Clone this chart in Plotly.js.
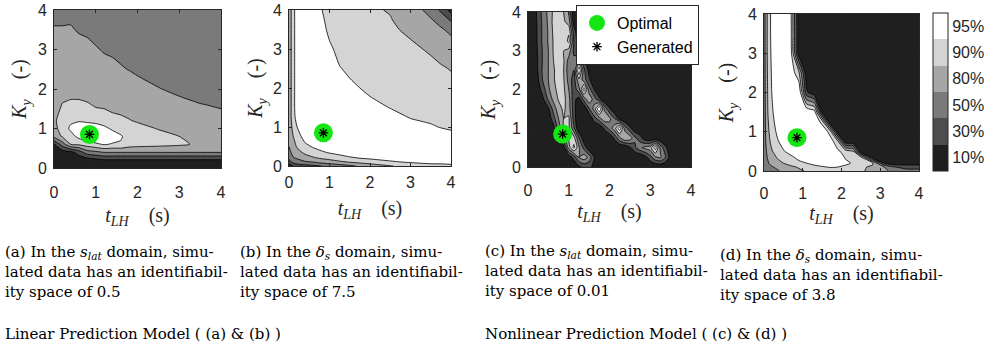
<!DOCTYPE html>
<html>
<head>
<meta charset="utf-8">
<script src="https://cdn.plot.ly/plotly-3.0.1.min.js"></script>
<style>html,body{margin:0;padding:0;background:#fff;}#chart{width:1002px;height:349px;}</style>
</head>
<body>
<div id="chart"></div>
<script>
// ---------------- data ----------------
// band scores: <1 -> 10%, 1-2 -> 30%, 2-3 -> 50%, 3-4 -> 80%, 4-5 -> 90%, >5 -> 95%
const BAND_LABELS = ['10%', '30%', '50%', '80%', '90%', '95%'];
const BAND_COLORS = ['#1f1f1f', '#4d4d4d', '#7a7a7a', '#a6a6a6', '#d4d4d4', '#ffffff'];
const TICKS = [0, 1, 2, 3, 4];

// (a) linear model, s_lat domain  (one inner list per t_LH value, K_y ascending)
const X_A = [0, 0.2, 0.4, 0.6, 0.8, 1.0, 1.2, 1.4, 1.6, 1.8, 2.0, 2.5, 3.0, 3.5, 4.0];
const Y_A = [0, 0.2, 0.4, 0.6, 0.8, 1.0, 1.2, 1.4, 1.6, 1.8, 2.0, 2.5, 3.0, 3.5, 4.0];
const Z_A = [
  [0, 0, 0.3, 0.9, 3.3, 3.7, 3.8, 3.6, 3.5, 3.45, 3.4, 3.3, 3.2, 3.05, 2.8],
  [0, 0.1, 0.5, 2.5, 4.1, 4.4, 4.5, 4.3, 4.05, 3.8, 3.6, 3.4, 3.25, 3.05, 2.8],
  [0, 0.2, 0.7, 4.0, 4.6, 5.2, 4.8, 4.5, 4.2, 3.9, 3.7, 3.45, 3.3, 3.05, 2.85],
  [0, 0.3, 1.5, 4.2, 5.3, 5.6, 4.9, 4.55, 4.2, 3.9, 3.75, 3.45, 3.2, 2.95, 2.75],
  [0, 0.4, 2.6, 4.5, 5.8, 5.9, 4.7, 4.4, 4.1, 3.8, 3.65, 3.4, 3.15, 2.9, 2.7],
  [0, 0.7, 2.8, 4.8, 6.0, 6.0, 4.4, 4.2, 3.9, 3.7, 3.55, 3.3, 3.05, 2.8, 2.6],
  [0, 0.9, 3.05, 5.1, 5.9, 5.3, 4.4, 4.15, 3.85, 3.65, 3.5, 3.2, 2.95, 2.7, 2.5],
  [0, 0.9, 3.05, 4.9, 5.6, 4.8, 4.4, 4.0, 3.8, 3.6, 3.45, 3.15, 2.9, 2.65, 2.45],
  [0, 0.9, 3.05, 4.9, 5.1, 4.6, 4.25, 3.9, 3.7, 3.55, 3.4, 3.05, 2.85, 2.6, 2.4],
  [0, 0.9, 3.05, 4.5, 4.6, 4.4, 4.05, 3.8, 3.6, 3.45, 3.3, 2.98, 2.75, 2.55, 2.35],
  [0, 0.9, 3.05, 4.4, 4.5, 4.3, 3.9, 3.7, 3.55, 3.4, 3.2, 2.9, 2.7, 2.5, 2.3],
  [0, 0.9, 3.05, 4.3, 4.3, 3.95, 3.7, 3.5, 3.35, 3.2, 3.02, 2.8, 2.6, 2.4, 2.25],
  [0, 0.9, 3.05, 4.15, 4.0, 3.75, 3.5, 3.3, 3.15, 3.01, 2.9, 2.7, 2.5, 2.35, 2.2],
  [0, 0.9, 3.05, 3.85, 3.7, 3.5, 3.3, 3.15, 3.02, 2.9, 2.8, 2.6, 2.45, 2.3, 2.15],
  [0, 0.9, 3.05, 3.7, 3.55, 3.4, 3.2, 3.05, 2.95, 2.85, 2.75, 2.55, 2.4, 2.25, 2.1]
];

// (b) linear model, delta_s domain  (one inner list per t_LH value, K_y ascending)
const X_B = [0, 0.1, 0.2, 0.4, 0.6, 0.8, 1.0, 1.25, 1.5, 2.0, 2.5, 3.0, 3.5, 3.75, 4.0];
const Y_B = [0, 0.1, 0.2, 0.35, 0.5, 0.75, 1.0, 1.25, 1.5, 2.0, 2.5, 3.0, 3.5, 3.75, 4.0];
const Z_B = [
  [0.5, 1.5, 2.2, 2.7, 3.0, 3.2, 3.3, 3.3, 3.3, 3.3, 3.3, 3.3, 3.3, 3.3, 3.3],
  [1.0, 2.3, 2.9, 3.3, 3.6, 3.95, 4.3, 4.6, 4.6, 4.6, 4.6, 4.6, 4.6, 4.6, 4.6],
  [1.5, 2.5, 3.1, 3.7, 4.1, 4.55, 5.0, 5.4, 5.6, 5.6, 5.6, 5.6, 5.6, 5.6, 5.6],
  [1.6, 2.85, 3.6, 4.2, 4.75, 5.4, 5.8, 5.8, 5.8, 5.8, 5.8, 5.8, 5.8, 5.8, 5.8],
  [1.8, 3.0, 3.85, 4.6, 5.1, 5.6, 5.9, 5.9, 5.9, 5.9, 5.9, 5.85, 5.8, 5.7, 5.6],
  [2.0, 3.3, 4.1, 4.85, 5.4, 5.8, 6.0, 6.0, 6.0, 5.9, 5.75, 5.55, 5.3, 5.2, 5.05],
  [2.3, 3.5, 4.3, 5.1, 5.6, 6.0, 6.0, 6.0, 5.9, 5.7, 5.5, 5.15, 4.8, 4.65, 4.5],
  [2.5, 3.8, 4.6, 5.3, 5.8, 6.0, 6.0, 6.0, 5.9, 5.35, 5.04, 4.75, 4.5, 4.4, 4.3],
  [2.8, 4.05, 4.85, 5.5, 5.9, 6.0, 6.0, 5.85, 5.6, 5.15, 4.85, 4.6, 4.4, 4.3, 4.2],
  [3.5, 4.4, 5.15, 5.6, 5.8, 5.8, 5.7, 5.45, 5.2, 4.85, 4.6, 4.4, 4.25, 4.18, 4.1],
  [3.95, 4.85, 5.35, 5.6, 5.65, 5.6, 5.4, 5.2, 4.98, 4.75, 4.5, 4.3, 4.12, 4.04, 3.95],
  [4.3, 5.1, 5.4, 5.5, 5.5, 5.45, 5.2, 4.97, 4.85, 4.6, 4.35, 4.15, 3.85, 3.65, 3.45],
  [4.6, 5.3, 5.4, 5.4, 5.35, 5.3, 5.05, 4.9, 4.7, 4.45, 4.2, 3.9, 3.35, 3.07, 2.7],
  [4.7, 5.25, 5.3, 5.3, 5.25, 5.2, 4.98, 4.8, 4.65, 4.4, 4.1, 3.65, 3.1, 2.7, 1.8],
  [4.85, 5.2, 5.2, 5.2, 5.15, 5.1, 4.95, 4.75, 4.6, 4.3, 3.95, 3.45, 2.8, 1.85, 0.6]
];

// (c) nonlinear model, s_lat domain  (one row per K_y value, t_LH ascending)
const X_C = [0, 0.125, 0.25, 0.375, 0.5, 0.625, 0.75, 0.875, 1.0, 1.125, 1.25, 1.375, 1.5, 1.625, 1.75, 1.875,
             2.0, 2.125, 2.25, 2.375, 2.5, 2.625, 2.75, 2.875, 3.0, 3.125, 3.25, 3.375, 3.5, 3.625, 3.75, 3.875, 4.0];
const Y_C = [0, 0.25, 0.5, 0.75, 1.0, 1.25, 1.5, 1.75, 2.0, 2.25, 2.5, 2.75, 3.0, 3.25, 3.5, 3.75, 4.0];
const Z_C = [
  [0, 0, 0, 0, 0, 0, 0, 0, 0, 0, 0.8, 1.2, 1.3, 0.7, 0, 0, 0, 0, 0, 0, 0, 0, 0, 0, 0, 0, 0, 0, 0, 0, 0, 0, 0],
  [0, 0, 0, 0, 0, 0, 0, 0, 0.3, 1.4, 3.0, 3.6, 2.6, 1.0, 0, 0, 0, 0, 0, 0, 0, 0, 0, 0.6, 1.6, 2.8, 3.2, 2.0, 0.4, 0, 0, 0, 0],
  [0, 0, 0, 0, 0, 0, 0, 0.5, 3.5, 5.3, 3.2, 1.6, 0.2, 0, 0, 0, 0, 0, 0, 0, 0.8, 1.8, 2.8, 3.3, 3.6, 5.6, 2.6, 1.2, 0.3, 0, 0, 0, 0],
  [0, 0, 0, 0, 0, 0, 0.6, 2.5, 4.2, 4.4, 2.0, 0.2, 0, 0, 0, 0, 0, 1.2, 2.8, 4.0, 3.6, 2.2, 1.4, 0.3, 0, 0, 0, 0, 0, 0, 0, 0, 0],
  [0, 0, 0, 0, 0, 0.6, 2.4, 4.0, 4.3, 2.2, 0, 0, 0, 0, 0, 1.2, 2.4, 3.6, 5.6, 2.6, 1.2, 0.2, 0, 0, 0, 0, 0, 0, 0, 0, 0, 0, 0],
  [0, 0, 0, 0, 0.3, 1.6, 3.0, 4.0, 4.2, 1.5, 0, 0, 0, 1.5, 2.6, 3.8, 3.3, 2.0, 0.5, 0, 0, 0, 0, 0, 0, 0, 0, 0, 0, 0, 0, 0, 0],
  [0, 0, 0, 0, 0.8, 2.4, 3.6, 4.2, 3.5, 1.4, 0, 0, 1.9, 3.4, 6.0, 2.8, 1.1, 0, 0, 0, 0, 0, 0, 0, 0, 0, 0, 0, 0, 0, 0, 0, 0],
  [0, 0, 0, 0.9, 2.2, 3.3, 4.1, 4.3, 3.4, 1.3, 0.6, 2.4, 3.8, 2.5, 1.2, 0, 0, 0, 0, 0, 0, 0, 0, 0, 0, 0, 0, 0, 0, 0, 0, 0, 0],
  [0, 0, 0.5, 1.6, 2.8, 3.7, 4.3, 4.2, 3.0, 1.4, 2.6, 5.6, 2.4, 1.0, 0, 0, 0, 0, 0, 0, 0, 0, 0, 0, 0, 0, 0, 0, 0, 0, 0, 0, 0],
  [0, 0, 0.9, 2.2, 3.0, 3.9, 4.4, 4.1, 2.6, 1.5, 3.8, 2.5, 1.2, 0, 0, 0, 0, 0, 0, 0, 0, 0, 0, 0, 0, 0, 0, 0, 0, 0, 0, 0, 0],
  [0, 0, 1.1, 2.3, 3.0, 3.9, 4.4, 4.0, 2.4, 2.0, 6.0, 2.2, 0.6, 0, 0, 0, 0, 0, 0, 0, 0, 0, 0, 0, 0, 0, 0, 0, 0, 0, 0, 0, 0],
  [0, 0, 1.1, 2.2, 3.0, 4.0, 4.4, 4.1, 2.6, 2.2, 2.8, 1.3, 0, 0, 0, 0, 0, 0, 0, 0, 0, 0, 0, 0, 0, 0, 0, 0, 0, 0, 0, 0, 0],
  [0, 0, 1.2, 2.2, 3.0, 4.1, 4.4, 4.0, 3.6, 1.8, 1.3, 0.8, 0, 0, 0, 0, 0, 0, 0, 0, 0, 0, 0, 0, 0, 0, 0, 0, 0, 0, 0, 0, 0],
  [0, 0, 1.3, 2.3, 3.1, 4.1, 4.4, 4.2, 5.3, 2.0, 0.3, 0, 0, 0, 0, 0, 0, 0, 0, 0, 0, 0, 0, 0, 0, 0, 0, 0, 0, 0, 0, 0, 0],
  [0, 0, 1.3, 2.3, 3.1, 4.2, 4.5, 4.3, 4.8, 1.5, 0, 0, 0, 0, 0, 0, 0, 0, 0, 0, 0, 0, 0, 0, 0, 0, 0, 0, 0, 0, 0, 0, 0],
  [0, 0, 1.4, 2.3, 3.2, 4.3, 4.6, 4.2, 3.5, 0.5, 0, 0, 0, 0, 0, 0, 0, 0, 0, 0, 0, 0, 0, 0, 0, 0, 0, 0, 0, 0, 0, 0, 0],
  [0, 0, 1.5, 2.4, 3.3, 4.2, 4.5, 4.0, 3.0, 0.3, 0, 0, 0, 0, 0, 0, 0, 0, 0, 0, 0, 0, 0, 0, 0, 0, 0, 0, 0, 0, 0, 0, 0]
];

// (d) nonlinear model, delta_s domain  (one row per K_y value, t_LH ascending)
const X_D = [0, 0.1, 0.2, 0.35, 0.5, 0.7, 0.9, 1.1, 1.3, 1.5, 1.7, 1.9, 2.1, 2.3, 2.5, 2.8, 3.1, 3.4, 3.7, 4.0];
const Y_D = [0, 0.1, 0.2, 0.35, 0.5, 0.75, 1.0, 1.25, 1.5, 2.0, 2.5, 3.0, 3.5, 4.0];
const Z_D = [
  [2.0, 2.3, 2.6, 2.9, 3.2, 3.5, 3.8, 4.1, 4.3, 4.5, 4.6, 4.6, 4.5, 4.3, 4.1, 3.8, 3.3, 2.5, 2.2, 2.2],
  [2.3, 2.6, 2.9, 3.2, 3.5, 3.8, 4.1, 4.4, 4.7, 4.9, 5.05, 5.0, 4.8, 4.5, 4.2, 3.8, 3.0, 2.0, 1.8, 1.8],
  [2.5, 2.9, 3.3, 3.7, 4.0, 4.4, 4.75, 5.0, 5.3, 5.5, 5.6, 5.5, 5.2, 4.9, 4.6, 4.2, 1.0, 0.3, 0.3, 0.3],
  [2.5, 3.1, 3.6, 4.1, 4.5, 4.8, 5.3, 5.8, 6.0, 6.0, 6.0, 5.6, 4.9, 4.5, 4.2, 0.4, 0.2, 0.2, 0.2, 0.2],
  [2.5, 3.3, 3.9, 4.5, 4.9, 5.4, 5.8, 6.0, 6.0, 6.0, 5.8, 5.2, 4.6, 4.1, 0.3, 0.2, 0.2, 0.2, 0.2, 0.2],
  [2.5, 3.6, 4.3, 4.9, 5.4, 5.8, 6.0, 6.0, 6.0, 6.0, 5.6, 4.3, 0.3, 0.2, 0.2, 0.2, 0.2, 0.2, 0.2, 0.2],
  [2.5, 3.8, 4.5, 5.2, 5.6, 5.9, 6.0, 6.0, 6.0, 6.0, 4.6, 0.3, 0.2, 0.2, 0.2, 0.2, 0.2, 0.2, 0.2, 0.2],
  [2.5, 3.9, 4.7, 5.4, 5.8, 6.0, 6.0, 6.0, 6.0, 4.6, 0.3, 0.2, 0.2, 0.2, 0.2, 0.2, 0.2, 0.2, 0.2, 0.2],
  [2.5, 4.0, 4.85, 5.5, 5.9, 6.0, 6.0, 6.0, 5.5, 0.6, 0.2, 0.2, 0.2, 0.2, 0.2, 0.2, 0.2, 0.2, 0.2, 0.2],
  [2.5, 4.1, 5.0, 5.7, 5.9, 5.9, 6.0, 1.2, 0.2, 0.2, 0.2, 0.2, 0.2, 0.2, 0.2, 0.2, 0.2, 0.2, 0.2, 0.2],
  [2.5, 4.2, 5.1, 5.8, 5.9, 5.7, 4.2, 0.2, 0.2, 0.2, 0.2, 0.2, 0.2, 0.2, 0.2, 0.2, 0.2, 0.2, 0.2, 0.2],
  [2.5, 4.3, 5.2, 5.8, 5.8, 5.25, 0.4, 0.2, 0.2, 0.2, 0.2, 0.2, 0.2, 0.2, 0.2, 0.2, 0.2, 0.2, 0.2, 0.2],
  [2.5, 4.3, 5.3, 5.8, 5.8, 5.1, 0.4, 0.2, 0.2, 0.2, 0.2, 0.2, 0.2, 0.2, 0.2, 0.2, 0.2, 0.2, 0.2, 0.2],
  [2.5, 4.3, 5.3, 5.8, 5.8, 5.05, 0.4, 0.2, 0.2, 0.2, 0.2, 0.2, 0.2, 0.2, 0.2, 0.2, 0.2, 0.2, 0.2, 0.2]
];

// optimal / generated parameter point (t_LH, K_y)
const OPT_T = [0.85];
const OPT_K = [0.85];
const GEN_T = [0.85];
const GEN_K = [0.85];

const LEGEND_NAMES = ['Optimal', 'Generated'];
const X_TITLE = '<i>t</i><sub><i>LH</i></sub>&nbsp;&nbsp;&nbsp;&nbsp;(s)';
const Y_TITLE = '<i>K</i><sub><i>y</i></sub>&nbsp;&nbsp;&nbsp;&nbsp;(-)';

const CAPTIONS = [
  ['(a) In the <i>s</i><sub><i>lat</i></sub> domain, simu-', 'lated data has an identifiabil-', 'ity space of 0.5'],
  ['(b) In the <i>δ</i><sub><i>s</i></sub> domain, simu-', 'lated data has an identifiabil-', 'ity space of 7.5'],
  ['(c) In the <i>s</i><sub><i>lat</i></sub> domain, simu-', 'lated data has an identifiabil-', 'ity space of 0.01'],
  ['(d) In the <i>δ</i><sub><i>s</i></sub> domain, simu-', 'lated data has an identifiabil-', 'ity space of 3.8']
];
const GROUP_LABELS = ['Linear Prediction Model ( (a) &amp; (b) )', 'Nonlinear Prediction Model ( (c) &amp; (d) )'];

// ---------------- layout helpers (pixels -> paper) ----------------
const W = 1002, H = 349;
const fx = p => p / W;
const fy = p => 1 - p / H;

const PANELS = [
  {x: X_A, y: Y_A, z: Z_A, tr: true,  xd: [54, 221], yd: [10, 168], xs: 10, ts: 7, ys: 5},
  {x: X_B, y: Y_B, z: Z_B, tr: true,  xd: [289, 451], yd: [10, 166], xs: 2,  ts: 10, ys: 4},
  {x: X_C, y: Y_C, z: Z_C, tr: false, xd: [528, 691], yd: [12, 167], xs: 9,  ts: 5, ys: 10},
  {x: X_D, y: Y_D, z: Z_D, tr: false, xd: [764, 919], yd: [14, 171], xs: 8,  ts: 1, ys: 8}
];
const CAP_X = [3, 238, 483, 718];
const CAP_Y = [[252, 272, 292], [252, 272, 292], [251, 271, 291], [255, 275, 295]];

const INK = '#262626';
const SANS = 'Liberation Sans, Arial, Helvetica, sans-serif';
const SERIF = 'Liberation Serif, Times New Roman, serif';
const CAPFONT = 'DejaVu Serif, serif';

const CONTOUR_CS = BAND_COLORS.map((c, i) => [i / (BAND_COLORS.length - 1), c]);
const STEP_CS = [];
BAND_COLORS.forEach((c, i) => {
  STEP_CS.push([i / BAND_COLORS.length, c]);
  STEP_CS.push([(i + 1) / BAND_COLORS.length, c]);
});

const traces = [];
const layout = {
  width: W, height: H,
  margin: {l: 0, r: 0, t: 0, b: 0},
  paper_bgcolor: '#ffffff', plot_bgcolor: '#ffffff',
  font: {family: SANS, color: INK, size: 16},
  showlegend: true,
  legend: {
    x: fx(576), y: fy(5), xanchor: 'left', yanchor: 'top',
    bgcolor: '#ffffff', bordercolor: INK, borderwidth: 1,
    font: {family: SANS, size: 16, color: '#000'},
    itemsizing: 'trace', tracegroupgap: 0
  },
  annotations: []
};

PANELS.forEach((p, i) => {
  const n = i === 0 ? '' : String(i + 1);
  const xa = 'x' + n, ya = 'y' + n;
  traces.push({
    type: 'contour', x: p.x, y: p.y, z: p.z, transpose: p.tr,
    xaxis: xa, yaxis: ya,
    autocontour: false,
    contours: {start: 1, end: 5, size: 1, coloring: 'fill', showlines: true},
    colorscale: CONTOUR_CS, showscale: false,
    line: {color: '#000000', width: 0.8, smoothing: 0.6},
    hoverinfo: 'skip', showlegend: false
  });
  traces.push({
    type: 'scatter', mode: 'markers', x: OPT_T, y: OPT_K, xaxis: xa, yaxis: ya,
    name: LEGEND_NAMES[0], showlegend: i === 2,
    marker: {size: 19, color: '#13e613', line: {width: 0}}
  });
  traces.push({
    type: 'scatter', mode: 'markers', x: GEN_T, y: GEN_K, xaxis: xa, yaxis: ya,
    name: LEGEND_NAMES[1], showlegend: i === 2,
    marker: {symbol: 'asterisk', size: 8, color: '#000000', line: {width: 1.3, color: '#000000'}}
  });
  const common = {
    range: [0, 4], tickvals: TICKS, ticks: 'inside', ticklen: 3, tickcolor: INK,
    showline: true, mirror: 'ticks', linecolor: INK, linewidth: 1,
    showgrid: false, zeroline: false, fixedrange: true,
    tickfont: {family: SANS, size: 16, color: INK}
  };
  layout['xaxis' + n] = Object.assign({}, common, {
    domain: [fx(p.xd[0]), fx(p.xd[1])], anchor: ya,
    ticklabelstandoff: p.xs,
    title: {text: X_TITLE, font: {family: SERIF, size: 20, color: INK}, standoff: p.ts}
  });
  layout['yaxis' + n] = Object.assign({}, common, {
    domain: [fy(p.yd[1]), fy(p.yd[0])], anchor: xa,
    ticklabelstandoff: 3,
    title: {text: Y_TITLE, font: {family: SERIF, size: 20, color: INK}, standoff: p.ys}
  });
});

// colour key (shared by all four panels)
traces.push({
  type: 'heatmap', z: [BAND_LABELS.map((_, i) => i + 0.5)], xaxis: 'x4', yaxis: 'y4',
  zmin: 0, zmax: BAND_LABELS.length, colorscale: STEP_CS, opacity: 0,
  hoverinfo: 'skip', showlegend: false, showscale: true,
  colorbar: {
    x: fx(933), xanchor: 'left', y: fy(13), yanchor: 'top',
    len: 158 / H, lenmode: 'fraction', thickness: 15, thicknessmode: 'pixels',
    xpad: 0, ypad: 0, outlinewidth: 1, outlinecolor: INK,
    tickvals: BAND_LABELS.map((_, i) => i + 0.5), ticktext: BAND_LABELS,
    ticks: '', tickfont: {family: SANS, size: 16, color: INK}
  }
});

CAPTIONS.forEach((lines, i) => {
  lines.forEach((t, j) => {
    layout.annotations.push({
      xref: 'paper', yref: 'paper', x: fx(CAP_X[i]), y: fy(CAP_Y[i][j]),
      xanchor: 'left', yanchor: 'middle', showarrow: false, align: 'left',
      text: t, font: {family: CAPFONT, size: 15, color: '#000'}
    });
  });
});
GROUP_LABELS.forEach((t, i) => {
  layout.annotations.push({
    xref: 'paper', yref: 'paper', x: fx(CAP_X[i * 2]), y: fy(334),
    xanchor: 'left', yanchor: 'middle', showarrow: false, align: 'left',
    text: t, font: {family: CAPFONT, size: 15, color: '#000'}
  });
});

Plotly.newPlot('chart', traces, layout, {staticPlot: true, displayModeBar: false});
</script>
</body>
</html>
